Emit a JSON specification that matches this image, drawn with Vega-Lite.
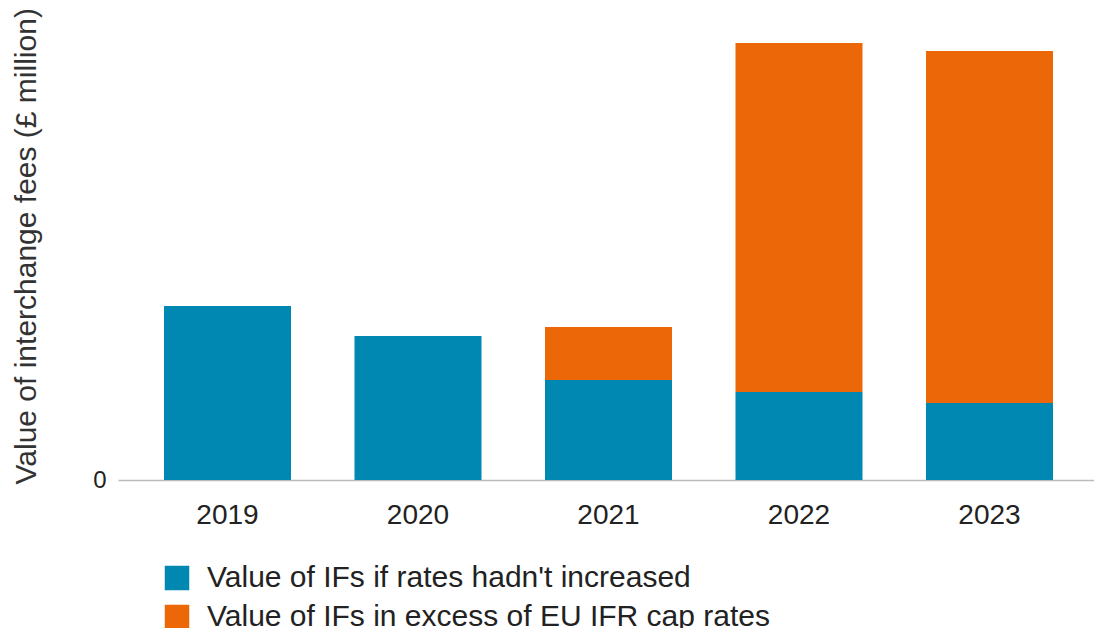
{
  "$schema": "https://vega.github.io/schema/vega-lite/v6.json",
  "autosize": "none",
  "width": 981,
  "height": 437,
  "padding": {"left": 118, "top": 43, "right": 0, "bottom": 148},
  "background": "white",
  "data": {
    "values": [
      {"year": "2019", "series": "Value of IFs if rates hadn't increased", "order": 1, "value": 174},
      {"year": "2020", "series": "Value of IFs if rates hadn't increased", "order": 1, "value": 144},
      {"year": "2021", "series": "Value of IFs if rates hadn't increased", "order": 1, "value": 100},
      {"year": "2021", "series": "Value of IFs in excess of EU IFR cap rates", "order": 2, "value": 53},
      {"year": "2022", "series": "Value of IFs if rates hadn't increased", "order": 1, "value": 88},
      {"year": "2022", "series": "Value of IFs in excess of EU IFR cap rates", "order": 2, "value": 349},
      {"year": "2023", "series": "Value of IFs if rates hadn't increased", "order": 1, "value": 77},
      {"year": "2023", "series": "Value of IFs in excess of EU IFR cap rates", "order": 2, "value": 352}
    ]
  },
  "mark": {"type": "bar"},
  "encoding": {
    "x": {
      "field": "year",
      "type": "nominal",
      "scale": {"paddingInner": 0.3333, "paddingOuter": 0.2415},
      "axis": {
        "title": null,
        "labelAngle": 0,
        "labelFont": "Liberation Sans",
        "labelFontSize": 28,
        "labelColor": "#222222",
        "labelPadding": 21,
        "ticks": false,
        "domainColor": "#bbbbbb",
        "domainWidth": 1.5
      }
    },
    "y": {
      "field": "value",
      "type": "quantitative",
      "stack": "zero",
      "scale": {"domain": [0, 437]},
      "axis": {
        "title": "Value of interchange fees (£ million)",
        "titleFont": "Liberation Sans",
        "titleFontSize": 30,
        "titleFontWeight": "normal",
        "titleColor": "#333333",
        "titleAngle": -90,
        "titleX": -83,
        "titleY": 441,
        "titleAlign": "left",
        "titleBaseline": "alphabetic",
        "values": [0],
        "labelFont": "Liberation Sans",
        "labelFontSize": 24,
        "labelColor": "#222222",
        "labelPadding": 12,
        "ticks": false,
        "domain": false,
        "grid": false
      }
    },
    "color": {
      "field": "series",
      "type": "nominal",
      "scale": {
        "domain": ["Value of IFs if rates hadn't increased", "Value of IFs in excess of EU IFR cap rates"],
        "range": ["#0087b2", "#ec6707"]
      },
      "legend": {
        "title": null,
        "orient": "none",
        "legendX": 44,
        "legendY": 520,
        "symbolType": "square",
        "symbolSize": 600,
        "symbolStrokeWidth": 0,
        "symbolOpacity": 1,
        "labelFont": "Liberation Sans",
        "labelFontSize": 30,
        "labelColor": "#222222",
        "labelOffset": 15,
        "rowPadding": 9,
        "labelLimit": 900
      }
    },
    "order": {"field": "order", "type": "quantitative"}
  },
  "config": {"view": {"stroke": null}}
}
